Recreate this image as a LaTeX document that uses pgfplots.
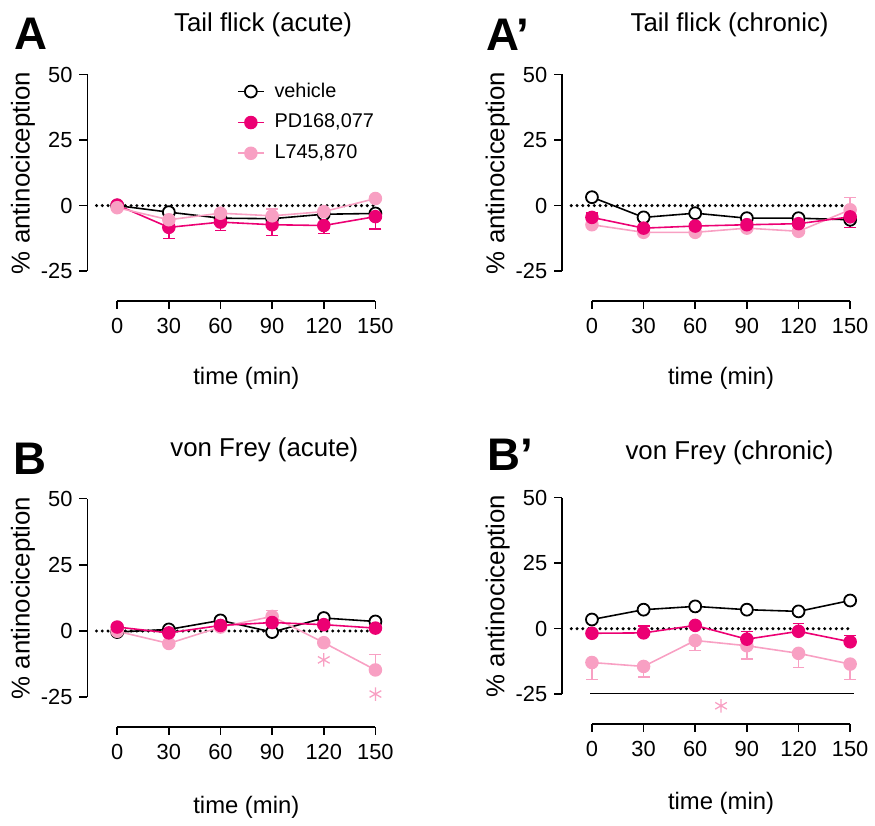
\documentclass[border=0pt]{standalone}
\usepackage{fontspec}
\setmainfont{Liberation Sans}
\usepackage{pgfplots}
\pgfplotsset{compat=1.18}

\definecolor{pdc}{RGB}{236,0,115}
\definecolor{lvc}{RGB}{248,160,195}

\pgfplotsset{
  prism/.style={
    scale only axis, width=130pt, height=99pt,
    xmin=0, xmax=150, ymin=-25, ymax=50,
    axis x line*=bottom, axis y line*=left,
    axis x line shift=15pt, axis y line shift=15pt,
    axis line style={line width=0.8pt},
    xtick={0,30,60,90,120,150}, ytick={-25,0,25,50},
    yticklabels={-25,0,25,50},
    /pgf/number format/assume math mode=true,
    tick style={black, line width=0.8pt},
    major tick length=4pt,
    tick align=outside,
    tick label style={font=\fontsize{11}{13}\selectfont},
    xticklabel style={yshift=-1pt},
    xlabel={time (min)}, ylabel={\% antinociception},
    xlabel style={font=\fontsize{12}{14}\selectfont, at={(axis description cs:0.5,-0.545)}, anchor=center},
    ylabel style={font=\fontsize{13}{15}\selectfont, at={(axis description cs:-0.365,0.5)}, anchor=center},
    title style={font=\fontsize{13}{15}\selectfont, anchor=center},
    clip=false,
  },
  veh/.style={black, line width=0.8pt, mark=*, mark size=3pt, mark options={fill=white, line width=0.9pt}},
  pd/.style={pdc, line width=0.8pt, mark=*, mark size=3pt, mark options={fill=pdc}},
  lv/.style={lvc, line width=0.8pt, mark=*, mark size=3pt, mark options={fill=lvc}},
  errm/.style={forget plot, draw=none, mark=none,
    error bars/y dir=minus, error bars/y explicit,
    error bars/error bar style={draw=#1, line width=0.75pt},
    error bars/error mark options={rotate=90, draw=#1, mark size=3pt, line width=0.75pt}},
  errp/.style={forget plot, draw=none, mark=none,
    error bars/y dir=plus, error bars/y explicit,
    error bars/error bar style={draw=#1, line width=0.75pt},
    error bars/error mark options={rotate=90, draw=#1, mark size=3pt, line width=0.75pt}},
  zeroline/.style={forget plot, black, line width=1.7pt, line cap=round, dash pattern=on 0pt off 2.9pt},
  star/.style={forget plot, only marks, lvc, mark=asterisk, mark size=3.4pt, mark options={line width=0.65pt}},
}

\begin{document}
\begin{tikzpicture}
\path (0,0) rectangle (437.5pt,-410pt);

% A: tail flick, acute
\begin{axis}[prism, at={(59pt,-136.5pt)}, anchor=south west,
  title={Tail flick (acute)}, title style={at={(axis description cs:0.565,1.19)}},
  legend style={draw=none, fill=none, at={(axis description cs:0.44,1.0)}, anchor=north west,
    font=\fontsize{10}{12}\selectfont, row sep=3pt},
  legend cell align=left,
  legend image code/.code={\draw[mark repeat=2, mark phase=2, #1] plot coordinates {(0pt,0pt) (6.5pt,0pt) (13pt,0pt)};},
  legend style={nodes={inner xsep=5pt}},
]
\addplot[zeroline] coordinates {(-12,0) (150,0)};
\addplot[errm=pdc] coordinates {(30,-8.3) -= (0,4.3) (60,-6.3) -= (0,3.2) (90,-7.3) -= (0,4.1) (120,-7.6) -= (0,3.1) (150,-4.2) -= (0,4.8)};
\addplot[errp=lvc] coordinates {(90,-3.9) += (0,2.6)};
\addplot[veh] coordinates {(0,0) (30,-2.5) (60,-4.8) (90,-5) (120,-3.3) (150,-3)};
\addplot[pd] coordinates {(0,0.2) (30,-8.3) (60,-6.3) (90,-7.3) (120,-7.6) (150,-4.2)};
\addplot[lv] coordinates {(0,-0.8) (30,-5.4) (60,-2.9) (90,-3.9) (120,-2.3) (150,2.7)};
\legend{vehicle, {PD168,077}, {L745,870}}
\end{axis}

% A': tail flick, chronic
\begin{axis}[prism, at={(298pt,-136.5pt)}, anchor=south west,
  title={Tail flick (chronic)}, title style={at={(axis description cs:0.533,1.19)}},
]
\addplot[zeroline] coordinates {(-12,0) (150,0)};
\addplot[errp=pdc] coordinates {(0,-4.5) += (0,1.6)};
\addplot[errm=pdc] coordinates {(150,-4.3) -= (0,4.0)};
\addplot[errp=lvc] coordinates {(150,-1.6) += (0,4.6)};
\addplot[veh] coordinates {(0,3.2) (30,-4.5) (60,-2.9) (90,-4.8) (120,-4.8) (150,-5.4)};
\addplot[lv] coordinates {(0,-7.3) (30,-10.2) (60,-10.2) (90,-8.6) (120,-9.8) (150,-1.6)};
\addplot[pd] coordinates {(0,-4.5) (30,-8.6) (60,-7.8) (90,-7.3) (120,-6.9) (150,-4.3)};
\end{axis}

% B: von Frey, acute
\begin{axis}[prism, height=100pt, at={(59pt,-351pt)}, anchor=south west,
  title={von Frey (acute)}, title style={at={(axis description cs:0.57,1.185)}},
  xlabel style={at={(axis description cs:0.5,-0.555)}},
]
\addplot[zeroline] coordinates {(-12,0) (150,0)};
\addplot[errp=lvc] coordinates {(90,5.5) += (0,2.2) (150,-14.7) += (0,5.9)};
\addplot[veh] coordinates {(0,-0.4) (30,0.6) (60,4) (90,-0.4) (120,4.9) (150,3.6)};
\addplot[lv] coordinates {(0,-0.1) (30,-4.7) (60,1.5) (90,5.5) (120,-4.4) (150,-14.7)};
\addplot[pd] coordinates {(0,1.5) (30,-0.7) (60,2.1) (90,3.2) (120,2.4) (150,1.1)};
\addplot[star] coordinates {(120,-10.9) (150,-23.8)};
\end{axis}

% B': von Frey, chronic
\begin{axis}[prism, at={(298pt,-349.5pt)}, anchor=south west,
  title={von Frey (chronic)}, title style={at={(axis description cs:0.533,1.166)}},
  xlabel style={at={(axis description cs:0.5,-0.555)}},
]
\addplot[zeroline] coordinates {(-12,0) (150,0)};
\addplot[forget plot, black, line width=0.7pt] coordinates {(-1,-24.8) (152,-24.8)};
\addplot[errp=pdc] coordinates {(30,-1.6) += (0,2.6) (90,-4) += (0,3) (120,-1) += (0,2.9) (150,-5) += (0,2.5)};
\addplot[errm=lvc] coordinates {(0,-12.9) -= (0,6.5) (30,-14.4) -= (0,4) (60,-4.5) -= (0,3.9) (90,-6.5) -= (0,5) (120,-9.4) -= (0,5.35) (150,-13.5) -= (0,5.9)};
\addplot[veh] coordinates {(0,3.5) (30,7.25) (60,8.5) (90,7.25) (120,6.6) (150,10.75)};
\addplot[lv] coordinates {(0,-12.9) (30,-14.4) (60,-4.5) (90,-6.5) (120,-9.4) (150,-13.5)};
\addplot[pd] coordinates {(0,-1.75) (30,-1.6) (60,1.25) (90,-4) (120,-1) (150,-5)};
\addplot[star] coordinates {(75,-29.4)};
\end{axis}

\node[anchor=west, inner sep=0pt, font=\bfseries\fontsize{23}{27}\selectfont] at (7pt,-17pt) {A};
\node[anchor=west, inner sep=0pt, font=\bfseries\fontsize{23}{27}\selectfont] at (244.5pt,-17.5pt) {A’};
\node[anchor=west, inner sep=0pt, font=\bfseries\fontsize{23}{27}\selectfont] at (6.5pt,-231pt) {B};
\node[anchor=west, inner sep=0pt, font=\bfseries\fontsize{23}{27}\selectfont] at (245pt,-229pt) {B’};
\end{tikzpicture}
\end{document}
